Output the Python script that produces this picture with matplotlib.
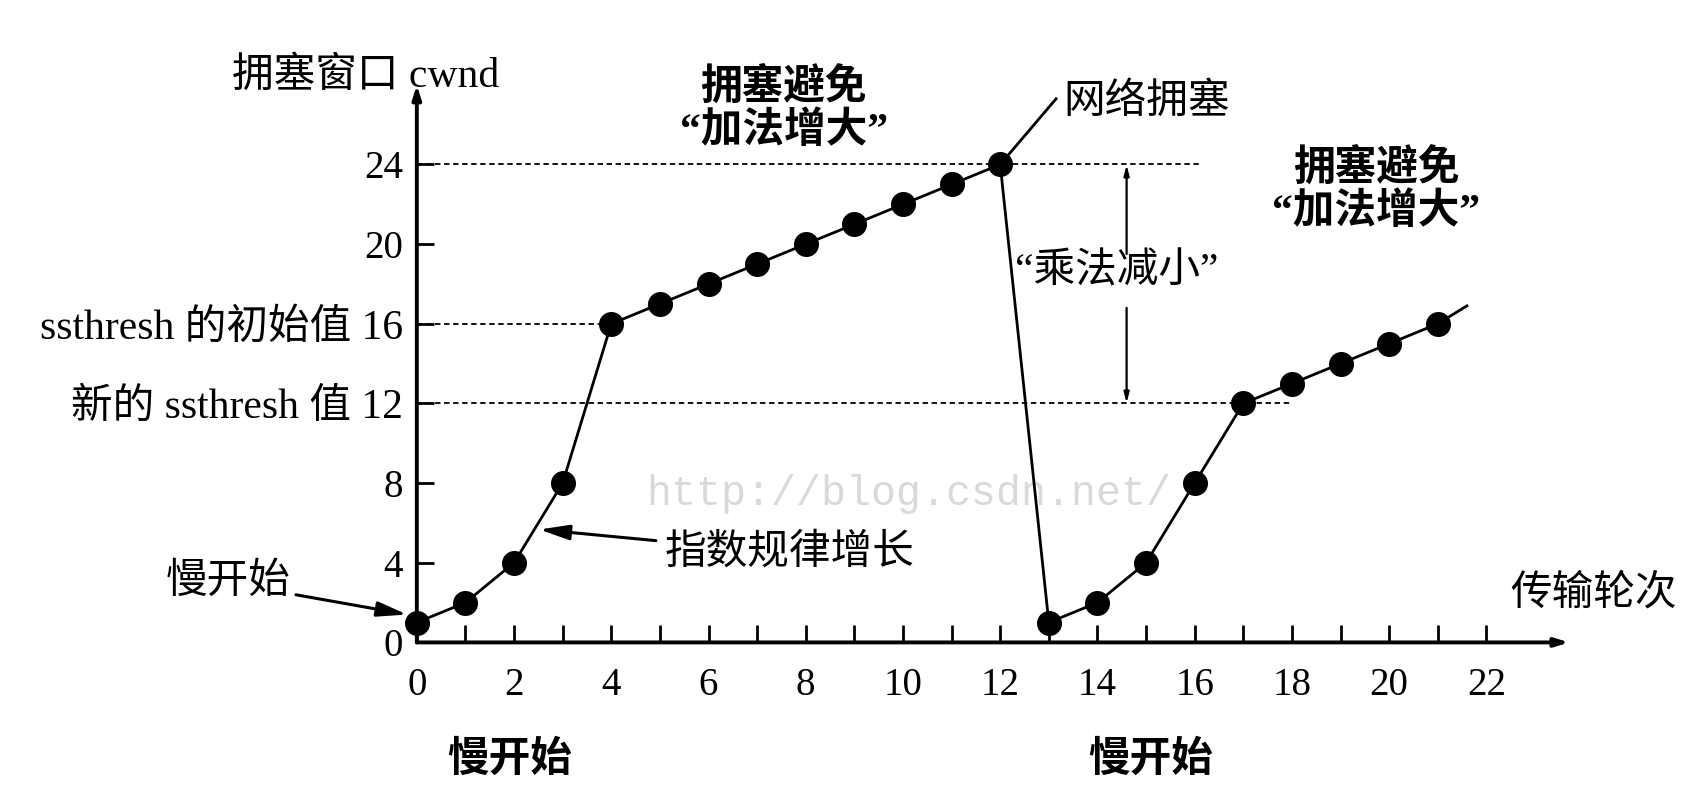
import matplotlib
matplotlib.use('Agg')
import matplotlib.pyplot as plt

plt.rcParams['font.family'] = ['Liberation Serif', 'Noto Sans CJK SC', 'DejaVu Sans']

# transmission rounds and cwnd values
rounds_a = [0, 1, 2, 3, 4, 5, 6, 7, 8, 9, 10, 11, 12]
cwnd_a = [1, 2, 4, 8, 16, 17, 18, 19, 20, 21, 22, 23, 24]
rounds_b = [13, 14, 15, 16, 17, 18, 19, 20, 21]
cwnd_b = [1, 2, 4, 8, 12, 13, 14, 15, 16]
tail_b = (21.6, 16.9)
congest_tip = (13.15, 27.3)

ssthresh_init = 16
ssthresh_new = 12
peak = 24

xtick_pos = list(range(0, 23))
xtick_lab = [str(i) if i % 2 == 0 else '' for i in xtick_pos]
ytick_pos = [0, 4, 8, 12, 16, 20, 24]
ytick_lab = ['0', '4', '8', '新的 ssthresh 值 12', 'ssthresh 的初始值 16', '20', '24']

FS = 30    # chinese text
FN = 28    # numbers
W, H = 1568, 728  # reference measured in this scale

fig = plt.figure(figsize=(17.02, 7.90), dpi=100)
ax = fig.add_axes([384 / W, (H - 592) / H, (1441 - 384) / W, (592 - 80) / H])
ax.set_xlim(0, 23.6)
ax.set_ylim(0, 27.9)
for s in ax.spines.values():
    s.set_visible(False)

# axes with arrows
ax.annotate('', xy=(23.7, 0), xytext=(0, 0), annotation_clip=False,
            arrowprops=dict(arrowstyle='-|>,head_length=0.8,head_width=0.25', lw=2.8, color='black',
                            shrinkA=0, shrinkB=0))
ax.annotate('', xy=(0, 28.0), xytext=(0, 0), annotation_clip=False,
            arrowprops=dict(arrowstyle='-|>,head_length=0.8,head_width=0.25', lw=2.8, color='black',
                            shrinkA=0, shrinkB=0))

ax.set_xticks(xtick_pos)
ax.set_xticklabels(xtick_lab, fontsize=FN)
ax.set_yticks(ytick_pos)
ax.set_yticklabels(ytick_lab, fontsize=FN)
for lbl in ax.get_yticklabels():
    if len(lbl.get_text()) > 2:
        lbl.set_fontsize(FS)
ax.tick_params(axis='x', direction='in', length=12, width=2, pad=18)
ax.tick_params(axis='y', direction='in', length=12, width=2, pad=10)

# dashed reference lines
ax.plot([0, 16.1], [peak, peak], ls=(0, (3, 2)), color='black', lw=1.3)
ax.plot([0, 4], [ssthresh_init, ssthresh_init], ls=(0, (3, 2)), color='black', lw=1.3)
ax.plot([0, 18], [ssthresh_new, ssthresh_new], ls=(0, (3, 2)), color='black', lw=1.3)

# cwnd curve
ax.plot(rounds_a + rounds_b, cwnd_a + cwnd_b, color='black', lw=2, marker='o',
        markersize=17, clip_on=False, zorder=5)
ax.plot([rounds_b[-1], tail_b[0]], [cwnd_b[-1], tail_b[1]], color='black', lw=2, clip_on=False)
ax.plot([rounds_a[-1], congest_tip[0]], [cwnd_a[-1], congest_tip[1]], color='black', lw=2, clip_on=False)

# watermark text
ax.text(4.71, 7.47, 'http://blog.csdn.net/', family='Liberation Mono', fontsize=30,
        color='#d9d9d9', va='center', ha='left', zorder=1)

# labels
ax.text(-1.05, 28.4, '拥塞窗口 cwnd', fontsize=FS, ha='center', va='center', clip_on=False)
ax.text(24.2, 2.4, '传输轮次', fontsize=FS, ha='center', va='center', clip_on=False)
ax.text(7.55, 26.75, '拥塞避免\n“加法增大”', fontsize=FS, fontweight='bold', ha='center',
        va='center', linespacing=1.12, clip_on=False)
ax.text(19.73, 22.7, '拥塞避免\n“加法增大”', fontsize=FS, fontweight='bold', ha='center',
        va='center', linespacing=1.12, clip_on=False)
ax.text(13.3, 27.1, '网络拥塞', fontsize=FS, ha='left', va='center', clip_on=False)
ax.text(1.92, -5.9, '慢开始', fontsize=FS, fontweight='bold', ha='center', va='center', clip_on=False)
ax.text(15.1, -5.9, '慢开始', fontsize=FS, fontweight='bold', ha='center', va='center', clip_on=False)

ax.annotate('慢开始', xy=(-0.2, 1.4), xytext=(-2.6, 3.0), fontsize=FS, ha='right', va='center',
            annotation_clip=False,
            arrowprops=dict(arrowstyle='-|>,head_length=0.6,head_width=0.15', lw=2.2, color='black',
                            shrinkA=2, shrinkB=0))
ax.annotate('指数规律增长', xy=(2.52, 5.67), xytext=(5.09, 4.47), fontsize=FS, ha='left', va='center',
            arrowprops=dict(arrowstyle='-|>,head_length=0.6,head_width=0.15', lw=2.2, color='black',
                            shrinkA=4, shrinkB=0))

# multiplicative decrease double arrow
ax.text(14.4, 18.6, '“乘法减小”', fontsize=FS, ha='center', va='center')
ax.annotate('', xy=(14.6, peak), xytext=(14.6, 19.5),
            arrowprops=dict(arrowstyle='-|>,head_length=0.6,head_width=0.15', lw=1.6, color='black',
                            shrinkA=0, shrinkB=0))
ax.annotate('', xy=(14.6, ssthresh_new), xytext=(14.6, 16.8),
            arrowprops=dict(arrowstyle='-|>,head_length=0.6,head_width=0.15', lw=1.6, color='black',
                            shrinkA=0, shrinkB=0))

plt.savefig('out.png', dpi=100)
